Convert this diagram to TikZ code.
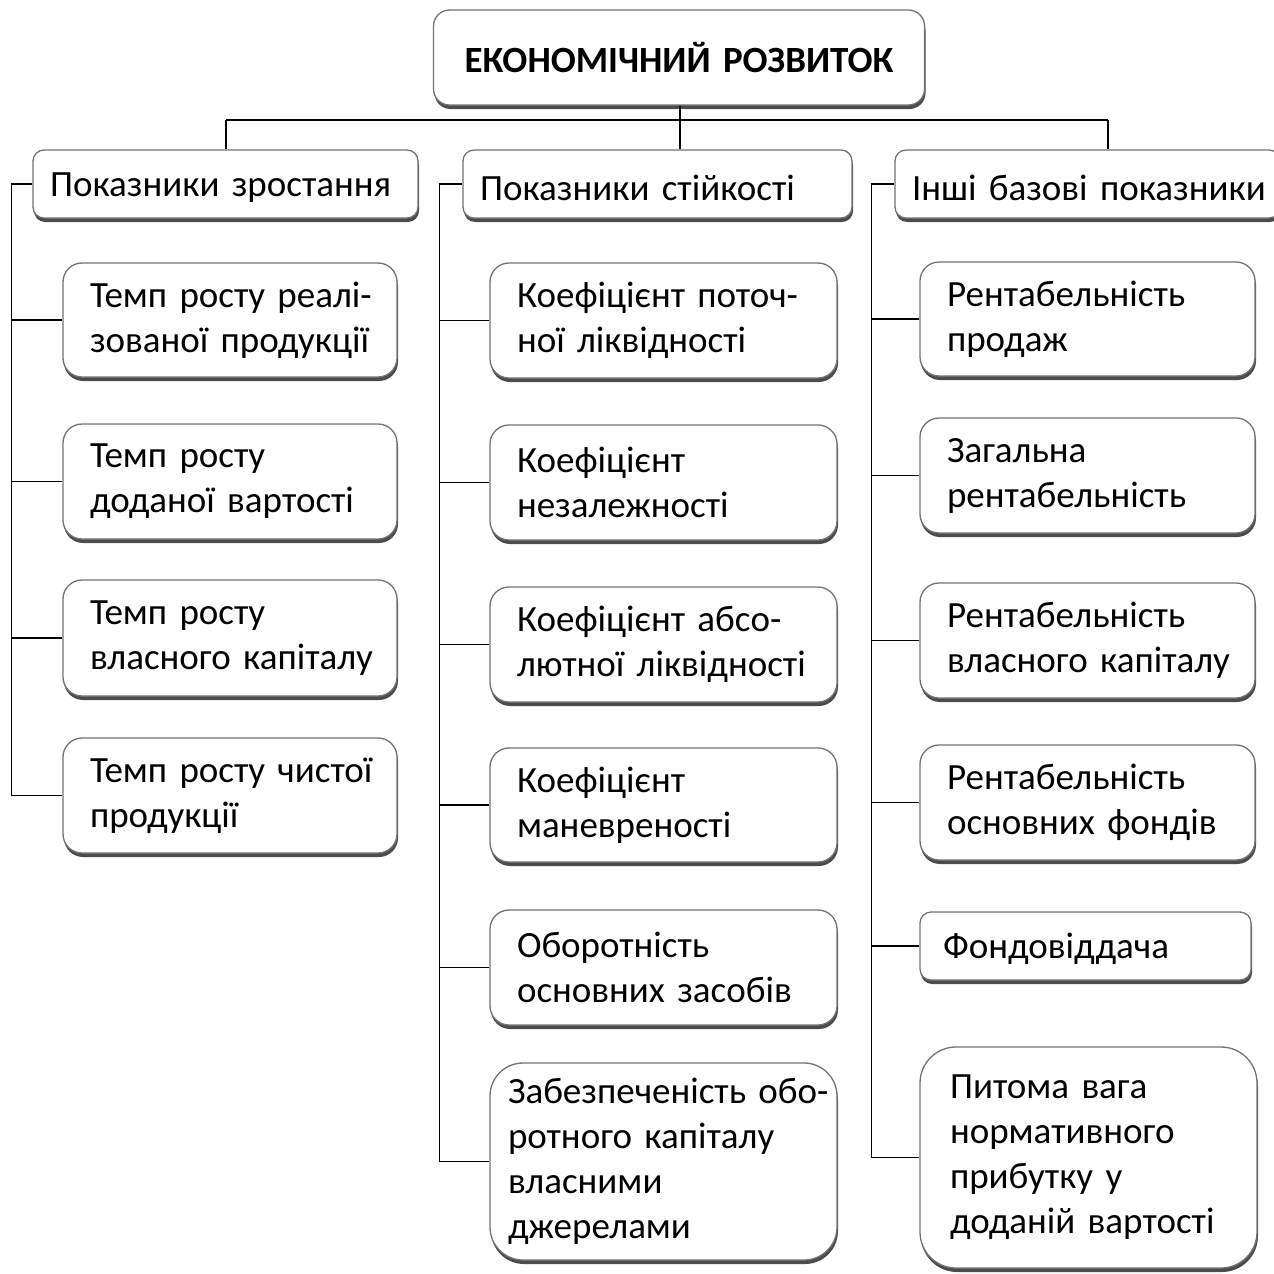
\documentclass[tikz,border=0pt]{standalone}
\usepackage{fontspec}
\setmainfont{Carlito}
\usetikzlibrary{shadows}
\newcommand\lx[1]{\mbox{#1}}
\newcommand\lowr[2]{\raisebox{-#1}[\height][\depth]{\mbox{#2}}}
\newcommand\bodyfont{\fontsize{37}{45}\selectfont\spaceskip=6.5pt plus 2pt minus 1pt\relax}
\begin{document}
\begin{tikzpicture}[x=1pt,y=-1pt,
  box/.style={draw=black!55, line width=1.3pt, fill=white, rounded corners=#1,
    drop shadow={shadow xshift=1pt, shadow yshift=-4pt, fill=black!70, opacity=1},
    align=left, inner ysep=0pt, font=\bodyfont},
  conn/.style={draw=black, line width=1.4pt}]
\useasboundingbox (0,0) rectangle (1274,1274);
\clip (0,0) rectangle (1274,1274);
% title
\node[box=16, align=center, minimum height=95, text width=471, inner xsep=10,
  font=\fontsize{37}{45}\selectfont\bfseries] (T) at (679,57.5) {\lx{ЕКОНОМІЧНИЙ РОЗВИТОК}};
% level 1
\node[box=11, minimum height=68, text width=351, inner xsep=17] (A) at (225.5,184) {\lowr{4pt}{Показники зростання}};
\node[box=11, minimum height=68, text width=355, inner xsep=17] (B) at (657.5,184) {\lowr{4pt}{Показники стійкості}};
\node[box=11, minimum height=68, text width=351, inner xsep=17] (C) at (1087.5,184) {\lowr{4pt}{Інші базові показники}};
% column 1
\node[box=19, minimum height=114, text width=280, inner xsep=27] (a1) at (230,320) {\lx{Темп росту реалі-}\\\lx{зованої продукції}};
\node[box=19, minimum height=115, text width=280, inner xsep=27] (a2) at (230,481.5) {\lx{Темп росту}\\\lx{доданої вартості}};
\node[box=19, minimum height=116, text width=280, inner xsep=27] (a3) at (230,638) {\lx{Темп росту}\\\lx{власного капіталу}};
\node[box=19, minimum height=115, text width=280, inner xsep=27] (a4) at (230,795.5) {\lx{Темп росту чистої}\\\lx{продукції}};
% column 2
\node[box=19, minimum height=115, text width=293, inner xsep=27] (b1) at (663.5,320.5) {\lx{Коефіцієнт поточ-}\\\lx{ної ліквідності}};
\node[box=19, minimum height=115, text width=293, inner xsep=27] (b2) at (663.5,482.5) {\lx{Коефіцієнт}\\\lx{незалежності}};
\node[box=19, minimum height=115, text width=293, inner xsep=27] (b3) at (663.5,644.5) {\lx{Коефіцієнт абсо-}\\\lx{лютної ліквідності}};
\node[box=19, minimum height=114, text width=293, inner xsep=27] (b4) at (663.5,805) {\lx{Коефіцієнт}\\\lx{маневреності}};
\node[box=19, minimum height=115, text width=293, inner xsep=27] (b5) at (663.5,967.5) {\lx{Оборотність}\\\lx{основних засобів}};
\node[box=33, minimum height=197, text width=311, inner xsep=18] (b6) at (663.5,1161.5) {\lx{Забезпеченість обо-}\\\lx{ротного капіталу}\\\lx{власними}\\\lx{джерелами}};
% column 3
\node[box=19, minimum height=114, text width=281, inner xsep=27] (c1) at (1087.5,319) {\lx{Рентабельність}\\\lx{продаж}};
\node[box=19, minimum height=115, text width=281, inner xsep=27] (c2) at (1087.5,475.5) {\lx{Загальна}\\\lx{рентабельність}};
\node[box=19, minimum height=115, text width=281, inner xsep=27] (c3) at (1087.5,640.5) {\lx{Рентабельність}\\\lx{власного капіталу}};
\node[box=19, minimum height=115, text width=281, inner xsep=27] (c4) at (1087.5,802.5) {\lx{Рентабельність}\\\lx{основних фондів}};
\node[box=11, minimum height=68, text width=285, inner xsep=23] (c5) at (1085.5,946) {\lowr{3pt}{Фондовіддача}};
\node[box=36, minimum height=221, text width=277, inner xsep=30] (c6) at (1088.5,1157.5) {\lx{Питома вага}\\\lx{нормативного}\\\lx{прибутку у}\\\lx{доданій вартості}};
% connectors
\coordinate (h) at (680,120);
\coordinate (hl) at (226,120);
\coordinate (hr) at (1108,120);
\draw[conn] (T.south -| h) -- (h);
\draw[conn] (hl) -- (hr);
\draw[conn] (hl) -- (hl |- A.north);
\draw[conn] (h) -- (h |- B.north);
\draw[conn] (hr) -- (hr |- C.north);
\draw[conn] (A.west) -- ++(-21,0) |- (a4.west);
\foreach \n in {a1,a2,a3} \draw[conn] (\n.west) -- ++(-51,0);
\draw[conn] (B.west) -- ++(-23,0) |- (b6.west);
\foreach \n in {b1,b2,b3,b4,b5} \draw[conn] (\n.west) -- ++(-50,0);
\draw[conn] (C.west) -- ++(-23,0) |- (c6.west);
\foreach \n in {c1,c2,c3,c4,c5} \draw[conn] (\n.west) -- ++(-48,0);
\end{tikzpicture}
\end{document}
